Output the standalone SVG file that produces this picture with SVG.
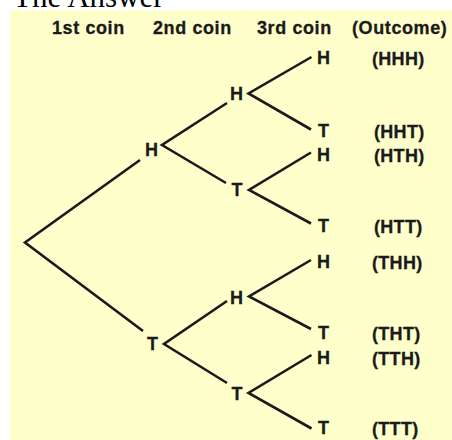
<svg xmlns="http://www.w3.org/2000/svg" width="452" height="440" viewBox="0 0 452 440">
  <style>
    .title { font-family: "Liberation Serif", "Times New Roman", serif; font-size: 31px; fill: #000; }
    .hdr { font-family: "Liberation Sans", Arial, sans-serif; font-size: 18px; font-weight: bold; letter-spacing: 0.6px; fill: #1a1a1a; stroke: #1a1a1a; stroke-width: 0.3; }
    .lbl { font-family: "Liberation Sans", Arial, sans-serif; font-size: 18px; font-weight: bold; fill: #1a1a1a; stroke: #1a1a1a; stroke-width: 0.3; }
    .out { font-family: "Liberation Sans", Arial, sans-serif; font-size: 18px; font-weight: bold; letter-spacing: 0.3px; fill: #1a1a1a; stroke: #1a1a1a; stroke-width: 0.3; }
    .edge { fill: none; stroke: #1a1a1a; stroke-width: 2.6; stroke-linecap: butt; stroke-linejoin: miter; }
  </style>
  <rect x="0" y="0" width="452" height="440" fill="#ffffff"/>
  <text class="title" x="13" y="7">The Answer</text>
  <rect x="10" y="10" width="442" height="430" fill="#ffffcc"/>

  <g id="headers">
    <text class="hdr" x="52" y="34">1st coin</text>
    <text class="hdr" x="153" y="34">2nd coin</text>
    <text class="hdr" x="257" y="34">3rd coin</text>
    <text class="hdr" x="352" y="34">(Outcome)</text>
  </g>

  <g id="connectors">
    <polyline class="edge" points="140,160 25,242.5 143,331"/>
    <polyline class="edge" points="227,103 162,145 226,183"/>
    <polyline class="edge" points="227,301 164,344 227,383"/>
    <polyline class="edge" points="311.5,57 248.5,93.5 311,129.5"/>
    <polyline class="edge" points="311,152.5 249,190 311,223.5"/>
    <polyline class="edge" points="311,260 249,296.5 311,329"/>
    <polyline class="edge" points="311.5,355 248.5,393 311.5,428.5"/>
  </g>

  <g id="n-H"><text class="lbl" x="145" y="155.5">H</text></g>
  <g id="n-T"><text class="lbl" x="147" y="349.5">T</text></g>

  <g id="n-HH"><text class="lbl" x="230" y="99.5">H</text></g>
  <g id="n-HT"><text class="lbl" x="231.5" y="196">T</text></g>
  <g id="n-TH"><text class="lbl" x="230" y="303.5">H</text></g>
  <g id="n-TT"><text class="lbl" x="231.5" y="400">T</text></g>

  <g id="n-HHH"><text class="lbl" x="317" y="63.5">H</text><text class="out" x="372" y="64.5">(HHH)</text></g>
  <g id="n-HHT"><text class="lbl" x="318" y="136.5">T</text><text class="out" x="374" y="137.5">(HHT)</text></g>
  <g id="n-HTH"><text class="lbl" x="317" y="160.5">H</text><text class="out" x="374" y="161.5">(HTH)</text></g>
  <g id="n-HTT"><text class="lbl" x="318" y="232">T</text><text class="out" x="374" y="233">(HTT)</text></g>
  <g id="n-THH"><text class="lbl" x="317" y="267.5">H</text><text class="out" x="372" y="268.5">(THH)</text></g>
  <g id="n-THT"><text class="lbl" x="318" y="338.5">T</text><text class="out" x="372" y="339.5">(THT)</text></g>
  <g id="n-TTH"><text class="lbl" x="317" y="364">H</text><text class="out" x="372" y="364.5">(TTH)</text></g>
  <g id="n-TTT"><text class="lbl" x="318" y="433.5">T</text><text class="out" x="372" y="434.5">(TTT)</text></g>
</svg>
